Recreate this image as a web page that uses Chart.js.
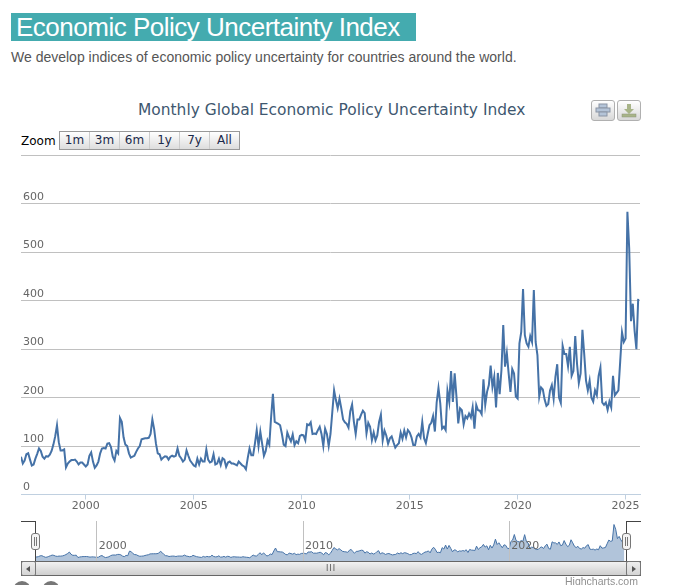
<!DOCTYPE html>
<html>
<head>
<meta charset="utf-8">
<title>Economic Policy Uncertainty Index</title>
<script src="https://cdn.jsdelivr.net/npm/chart.js@4"></script>
<style>
  html, body { margin: 0; padding: 0; background: #fff; overflow: hidden; }
  body { position: relative; width: 682px; height: 585px; }
  .abs { position: absolute; }
  #banner { left: 11px; top: 13px; width: 400px; height: 28px; padding-left: 5px; background: #44abaf; color: #fff;
    font: 26px/28px "Liberation Sans", Arial, sans-serif; letter-spacing: -0.5px; white-space: nowrap; }
  #sub { left: 11px; top: 49px; color: #555; font: 14px/17px "Liberation Sans", Arial, sans-serif; white-space: nowrap; }
  #chartTitle { left: 138px; top: 100px; color: #3e576f; font: 15.45px/20px "DejaVu Sans", sans-serif; white-space: nowrap; }
  .iconBtn { top: 100px; width: 22px; height: 19px; border: 1px solid #b0b0b0; border-radius: 3px;
    background: linear-gradient(#fff, #d8d8d8); }
  #zoomLabel { left: 21px; top: 133px; color: #000; font: 12px/16px "DejaVu Sans", sans-serif; }
  #zoomBox { left: 59px; top: 131px; display: flex; border: 1px solid #999; }
  #zoomBox span { width: 29px; height: 17px; border-left: 1px solid #ccc; background: linear-gradient(#fff, #ddd);
    color: #1b2a4a; font: 12px/17px "DejaVu Sans", sans-serif; text-align: center; }
  #zoomBox span:first-child { border-left: 0; }
  #mainCanvas { left: 0; top: 150px; }
  #navCanvas { left: 0; top: 515px; }
  .mask { background: #444; }
  .handle { top: 533px; width: 7px; height: 15px; background: #f4f4f4; border: 1px solid #777; border-radius: 3px; }
  .handle i { position: absolute; top: 3px; width: 1px; height: 9px; background: #777; }
  #scrollTrack { left: 21px; top: 561px; width: 618px; height: 13px; border: 1px solid #666; background: linear-gradient(#f2f2f2, #cfcfcf); }
  .scrollBtn { top: 561px; width: 13px; height: 13px; border: 1px solid #777; border-radius: 2px; background: linear-gradient(#eee, #d4d4d4); }
  .scrollBtn b { position: absolute; top: 4px; width: 0; height: 0; border-top: 3px solid transparent; border-bottom: 3px solid transparent; }
  #grip { left: 326px; top: 565px; color: #555; font: 8px/8px "DejaVu Sans", sans-serif; letter-spacing: 1px; }
  #credit { left: 565px; top: 575px; color: #909090; font: 10.5px/12px "Liberation Sans", Arial, sans-serif; }
  .dot { top: 581px; width: 18px; height: 18px; border-radius: 50%; background: #777; }
</style>
</head>
<body>
<div id="banner" class="abs">Economic Policy Uncertainty Index</div>
<div id="sub" class="abs">We develop indices of economic policy uncertainty for countries around the world.</div>
<div id="chartTitle" class="abs">Monthly Global Economic Policy Uncertainty Index</div>

<div class="abs iconBtn" style="left:591px">
  <svg width="22" height="19"><rect x="7" y="3" width="8" height="4" fill="#b4c4d8" stroke="#8a94a4"/><rect x="4" y="7" width="14" height="4" fill="#b4c4d8" stroke="#8a94a4"/><rect x="7" y="11" width="8" height="4" fill="#b4c4d8" stroke="#8a94a4"/></svg>
</div>
<div class="abs iconBtn" style="left:617px">
  <svg width="22" height="19"><path d="M9 3h4v5h3l-5 5-5-5h3z" fill="#a8b488"/><rect x="4" y="13" width="14" height="3" fill="#a8b488" stroke="#8a947a" stroke-width=".5"/></svg>
</div>

<div id="zoomLabel" class="abs">Zoom</div>
<div id="zoomBox" class="abs"></div>

<canvas id="mainCanvas" class="abs" width="682" height="370"></canvas>
<canvas id="navCanvas" class="abs" width="682" height="50"></canvas>

<div class="abs mask" style="left:21px;top:521px;width:14px;height:1px"></div>
<div class="abs mask" style="left:35px;top:521px;width:1px;height:40px"></div>
<div class="abs mask" style="left:626px;top:521px;width:15px;height:1px"></div>
<div class="abs mask" style="left:626px;top:521px;width:1px;height:40px"></div>
<div class="abs handle" style="left:31px"><i style="left:2px"></i><i style="left:4px"></i></div>
<div class="abs handle" style="left:622px"><i style="left:2px"></i><i style="left:4px"></i></div>

<div id="scrollTrack" class="abs"></div>
<div class="abs scrollBtn" style="left:21px"><b style="left:4px;border-right:4px solid #555"></b></div>
<div class="abs scrollBtn" style="left:626px"><b style="left:5px;border-left:4px solid #555"></b></div>
<div id="grip" class="abs">III</div>
<div id="credit" class="abs">Highcharts.com</div>
<div class="abs dot" style="left:13px"></div>
<div class="abs dot" style="left:42px"></div>

<script>
const startYear = 1997;
const gepu = [
  78, 64, 70, 83, 85, 72, 60, 62, 74, 84, 95, 90,
  78, 74, 79, 78, 82, 90, 103, 120, 143, 108, 91, 91,
  93, 56, 64, 68, 71, 71, 72, 68, 62, 66, 66, 62,
  58, 62, 80, 87, 68, 55, 60, 68, 85, 95, 96, 95,
  105, 106, 98, 78, 70, 90, 85, 158, 150, 118, 103, 100,
  85, 76, 78, 80, 88, 95, 100, 114, 115, 116, 116, 117,
  125, 155, 135, 105, 85, 83, 72, 76, 79, 78, 72, 78,
  80, 78, 80, 95, 80, 75, 68, 72, 91, 80, 70, 65,
  60, 58, 74, 62, 74, 68, 68, 93, 72, 66, 68, 83,
  62, 64, 74, 61, 75, 72, 57, 66, 68, 64, 64, 62,
  60, 68, 64, 60, 58, 52, 75, 95, 81, 81, 105, 133,
  100, 130, 105, 80, 90, 112, 103, 160, 208, 150, 148, 146,
  143, 125, 103, 100, 128, 118, 110, 124, 102, 110, 106, 121,
  123, 122, 112, 145, 143, 149, 125, 126, 125, 133, 140, 125,
  100, 136, 125, 100, 125, 170, 215, 195, 178, 198, 178, 155,
  149, 146, 138, 172, 186, 150, 125, 155, 155, 165, 173, 168,
  126, 148, 140, 112, 128, 112, 122, 150, 165, 112, 132, 122,
  105, 116, 120, 108, 97, 102, 106, 128, 115, 132, 118, 133,
  128, 118, 102, 102, 120, 125, 118, 150, 116, 106, 125, 143,
  148, 162, 130, 190, 220, 188, 136, 140, 133, 214, 191, 255,
  191, 250, 202, 147, 178, 174, 145, 162, 157, 167, 159, 180,
  136, 185, 174, 173, 166, 238, 185, 212, 226, 266, 222, 243,
  180, 251, 207, 257, 350, 264, 292, 250, 212, 259, 250, 202,
  198, 312, 336, 424, 329, 312, 305, 327, 315, 422, 315, 288,
  202, 221, 217, 196, 183, 187, 215, 226, 198, 243, 269, 200,
  189, 307, 290, 290, 265, 305, 245, 255, 327, 270, 230, 250,
  340, 290, 235, 215, 235, 200, 192, 215, 205, 245, 262, 190,
  185, 190, 175, 192, 180, 245, 205, 210, 215, 275, 335, 315,
  322, 584, 508, 358, 394, 338, 300, 404
];
const yearTicks = [2000, 2005, 2010, 2015, 2020, 2025];
const navYearTicks = [2000, 2010, 2020];
const valueTicks = [0, 100, 200, 300, 400, 500, 600, 700];
const valueLabels = ['0', '100', '200', '300', '400', '500', '600', ''];
const zoomButtons = ['1m', '3m', '6m', '1y', '7y', 'All'];

const xMin = startYear;
const xMax = startYear + gepu.length / 12;
// fecha decimal de cada mes
const puntos = gepu.map((v, i) => ({ x: startYear + i / 12, y: v }));

document.getElementById('zoomBox').innerHTML = zoomButtons.map(b => `<span>${b}</span>`).join('');

new Chart(document.getElementById('mainCanvas'), {
  type: 'line',
  data: {
    datasets: [{
      label: 'Global EPU',
      data: puntos,
      borderColor: '#4572a7',
      borderWidth: 2,
      pointRadius: 0,
      tension: 0
    }]
  },
  options: {
    responsive: false,
    animation: false,
    layout: { padding: { left: 21, right: 42, top: 5.5, bottom: 5.5 } },
    plugins: { legend: { display: false }, title: { display: false }, tooltip: { enabled: false } },
    scales: {
      x: {
        type: 'linear',
        min: xMin,
        max: xMax,
        afterBuildTicks: s => { s.ticks = yearTicks.map(v => ({ value: v })); },
        afterFit: s => { s.height = 20; s.paddingLeft = 0; s.paddingRight = 0; },
        border: { color: '#c0d0e0' },
        grid: { drawOnChartArea: false, drawTicks: true, tickLength: 5, color: '#c0d0e0' },
        ticks: {
          color: '#666',
          font: { family: 'DejaVu Sans', size: 11 },
          padding: 0,
          maxRotation: 0,
          callback: v => String(v)
        }
      },
      y: {
        min: 0,
        max: 700,
        afterBuildTicks: s => { s.ticks = valueTicks.map(v => ({ value: v })); },
        afterFit: s => { s.width = 0; s.paddingTop = 0; s.paddingBottom = 0; },
        border: { display: false },
        grid: { color: '#c0c0c0', drawTicks: false },
        ticks: {
          mirror: true,
          padding: 2,
          labelOffset: -7,
          color: '#666',
          font: { family: 'DejaVu Sans', size: 11 },
          callback: v => valueLabels[valueTicks.indexOf(v)]
        }
      }
    }
  }
});

new Chart(document.getElementById('navCanvas'), {
  type: 'line',
  data: {
    datasets: [{
      label: 'Navigator',
      data: puntos,
      borderColor: '#4572a7',
      borderWidth: 1,
      backgroundColor: 'rgba(69,114,167,0.42)',
      fill: 'origin',
      pointRadius: 0,
      tension: 0
    }]
  },
  options: {
    responsive: false,
    animation: false,
    layout: { padding: { left: 35, right: 56, top: 6, bottom: 4 } },
    plugins: { legend: { display: false }, title: { display: false }, tooltip: { enabled: false } },
    scales: {
      x: {
        type: 'linear',
        min: xMin,
        max: xMax,
        afterBuildTicks: s => { s.ticks = navYearTicks.map(v => ({ value: v })); },
        afterFit: s => { s.height = 0; s.paddingLeft = 0; s.paddingRight = 0; },
        border: { display: false },
        grid: { color: '#c0c0c0', drawTicks: false, z: 1 },
        ticks: {
          z: 2,
          mirror: true,
          color: '#666',
          align: 'start',
          padding: 8,
          labelOffset: 2,
          maxRotation: 0,
          font: { family: 'DejaVu Sans', size: 11 },
          callback: v => String(v)
        }
      },
      y: { display: false, min: 0, max: 640 }
    }
  }
});
</script>
</body>
</html>
